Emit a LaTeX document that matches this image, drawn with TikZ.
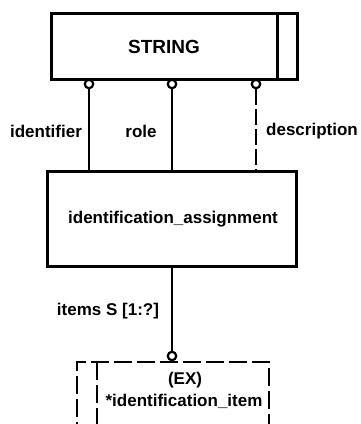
\documentclass[tikz,border=0pt]{standalone}
\usepackage{fontspec}
\setmainfont{Liberation Sans}
\begin{document}
\begin{tikzpicture}[x=1pt,y=-1pt,
  box/.style={draw,line width=3pt},
  rel/.style={line width=2.6pt},
  dashrel/.style={line width=2.6pt,dash pattern=on 16pt off 4pt},
  dashbox/.style={line width=2.6pt,dash pattern=on 18pt off 5pt},
  ring/.style={circle,draw,line width=2.2pt,fill=white,minimum size=8.5pt,inner sep=0pt},
  lbl/.style={font=\fontsize{17}{19}\selectfont\bfseries,inner sep=0pt}]
\useasboundingbox (0,0) rectangle (361,424);
% STRING box
\draw[box] (51,13) rectangle (297,79);
\draw[box] (277,13) -- (277,79);
\node[lbl,font=\fontsize{19}{21}\selectfont\bfseries] (string) at (164,47) {STRING};
% identification_assignment box
\draw[box] (47,171) rectangle (296,266);
\node[lbl] (ia) at (173,219) {identification\_assignment};
\coordinate (iatop1) at (89,171);
\coordinate (iatop2) at (172,171);
\coordinate (iatop3) at (256,171);
\coordinate (iabot) at (172,266);
% rings
\node[ring] (r1) at (89,84) {};
\node[ring] (r2) at (172,84) {};
\node[ring] (r3) at (256,84) {};
\draw[rel] (r1.south) -- (iatop1);
\draw[rel] (r2.south) -- (iatop2);
\draw[dashrel] (r3.south) -- (iatop3);
% labels
\node[lbl] (lid) at (46,131) {identifier};
\node[lbl] (lrole) at (141,131) {role};
\node[lbl] (ldesc) at (312,131) {description};
\node[lbl] (litems) at (108,311) {items S [1:?]};
% EX box (cut off at bottom)
\begin{scope}
\clip (0,0) rectangle (361,424);
\draw[dashbox] (77,440) -- (77,362) -- (269,362) -- (269,440);
\draw[dashbox] (97,362) -- (97,440);
\end{scope}
\node[ring] (r4) at (172,356) {};
\draw[rel] (iabot) -- (r4.north);
\node[lbl] (ex) at (185,380) {(EX)};
\node[lbl] (item) at (184,401) {*identification\_item};
\end{tikzpicture}
\end{document}
